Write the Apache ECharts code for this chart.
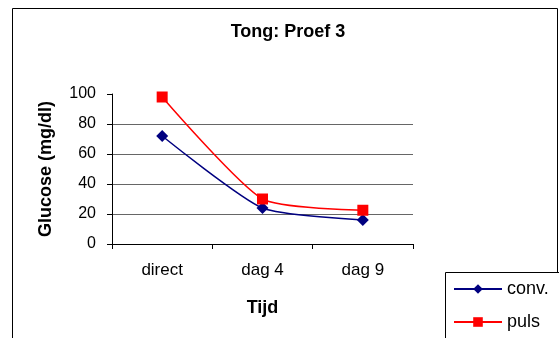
<!DOCTYPE html>
<html>
<head>
<meta charset="utf-8">
<script src="https://cdn.jsdelivr.net/npm/echarts@6/dist/echarts.min.js"></script>
<style>
html,body{margin:0;padding:0;background:#fff;}
#c{width:559px;height:338px;}
</style>
</head>
<body>
<div id="c"></div>
<script>
const categories = ['direct', 'dag 4', 'dag 9'];
const convValues = [72, 24, 16];
const pulsValues = [98, 30, 22.5];
const yTicks = { min: 0, max: 100, interval: 20 };
const titleText = 'Tong: Proef 3';
const xTitle = 'Tijd';
const yTitle = 'Glucose (mg/dl)';
const seriesNames = ['conv.', 'puls'];

const FONT = '"Liberation Sans", Arial, sans-serif';
const chart = echarts.init(document.getElementById('c'), null, { renderer: 'canvas' });
chart.setOption({
  animation: false,
  backgroundColor: '#fff',
  grid: { left: 112, top: 94, width: 301, height: 150 },
  graphic: [
    { type: 'rect', shape: { x: 12.5, y: 8.5, width: 545, height: 340 }, style: { fill: 'none', stroke: '#000', lineWidth: 1 }, silent: true },
    { type: 'rect', shape: { x: 445.5, y: 272.5, width: 120, height: 80 }, style: { fill: '#fff', stroke: '#000', lineWidth: 1 }, silent: true, z: 1 },
    { type: 'text', x: 288, y: 32, style: { text: titleText, font: 'bold 18px ' + FONT, fill: '#000', textAlign: 'center', textVerticalAlign: 'middle' }, silent: true }
  ],
  legend: {
    orient: 'vertical', left: 453, top: 280, itemWidth: 48, itemHeight: 12, itemGap: 15, padding: 0, z: 5,
    textStyle: { fontFamily: FONT, fontSize: 18, color: '#000' },
    data: seriesNames
  },
  xAxis: {
    type: 'category', data: categories, boundaryGap: true,
    name: xTitle, nameLocation: 'middle', nameGap: 55,
    nameTextStyle: { fontFamily: FONT, fontSize: 18, fontWeight: 'bold', color: '#000' },
    axisLine: { lineStyle: { color: '#000', width: 1 } },
    axisTick: { show: true, length: 5, lineStyle: { color: '#000' } },
    axisLabel: { fontFamily: FONT, fontSize: 17, color: '#000', margin: 18 },
    splitLine: { show: false }
  },
  yAxis: {
    type: 'value', min: yTicks.min, max: yTicks.max, interval: yTicks.interval,
    name: yTitle, nameLocation: 'middle', nameGap: 57, nameRotate: 90,
    nameTextStyle: { fontFamily: FONT, fontSize: 18, fontWeight: 'bold', color: '#000' },
    axisLine: { show: true, lineStyle: { color: '#000', width: 1 } },
    axisTick: { show: true, length: 5, lineStyle: { color: '#000' } },
    axisLabel: { fontFamily: FONT, fontSize: 16, color: '#000', margin: 16 },
    splitLine: { show: true, lineStyle: { color: ['#000', '#666', '#666', '#666', '#666', 'rgba(0,0,0,0)'], width: 1 } }
  },
  series: [
    {
      name: seriesNames[0], type: 'line', data: convValues, smooth: 0.2,
      symbol: 'diamond', symbolSize: 12,
      lineStyle: { color: '#000080', width: 1.5 },
      itemStyle: { color: '#000080' }, z: 3
    },
    {
      name: seriesNames[1], type: 'line', data: pulsValues, smooth: 0.2,
      symbol: 'rect', symbolSize: 11,
      lineStyle: { color: '#ff0000', width: 1.5 },
      itemStyle: { color: '#ff0000' }, z: 3
    }
  ]
});
</script>
</body>
</html>
